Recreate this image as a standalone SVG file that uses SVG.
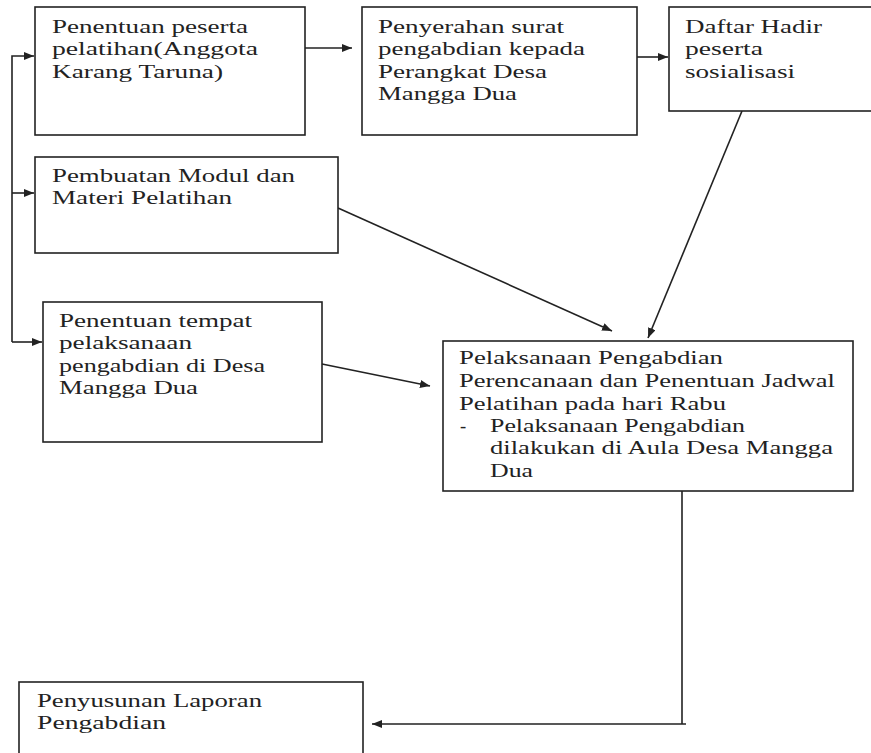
<svg xmlns="http://www.w3.org/2000/svg" width="871" height="753" viewBox="0 0 871 753">
<style>
.box{fill:#fff;stroke:#222;stroke-width:1.6}
.t{font-family:"Liberation Serif","Times New Roman",serif;font-size:18.5px;fill:#222}
.c{fill:none;stroke:#222;stroke-width:1.6}
</style>
<defs>
<marker id="ah" viewBox="0 0 10 8" refX="10" refY="4" markerWidth="10" markerHeight="8" markerUnits="userSpaceOnUse" orient="auto">
<path d="M0,0 L10,4 L0,8 Z" fill="#222"/>
</marker>
</defs>
<rect width="871" height="753" fill="#fff"/>
<g id="connectors">
<path class="c" d="M12,342 L12,56 L34,56" marker-end="url(#ah)"/>
<path class="c" d="M12,193 L34,193" marker-end="url(#ah)"/>
<path class="c" d="M12,342 L42,342" marker-end="url(#ah)"/>
<path class="c" d="M305,48 L352,48" marker-end="url(#ah)"/>
<path class="c" d="M637,57 L668,57" marker-end="url(#ah)"/>
<path class="c" d="M742,111 L648,338" marker-end="url(#ah)"/>
<path class="c" d="M338,208 L612,331" marker-end="url(#ah)"/>
<path class="c" d="M322,364 L430,386" marker-end="url(#ah)"/>
<path class="c" d="M682,491 L682,724 L686,724 M682,724 L372,724" marker-end="url(#ah)"/>
</g>
<g id="n1">
<rect class="box" x="35" y="7" width="270" height="128"/>
<text class="t" x="52" y="33" textLength="196" lengthAdjust="spacingAndGlyphs">Penentuan peserta</text>
<text class="t" x="52" y="55" textLength="206" lengthAdjust="spacingAndGlyphs">pelatihan(Anggota</text>
<text class="t" x="52" y="78" textLength="171" lengthAdjust="spacingAndGlyphs">Karang Taruna)</text>
</g>
<g id="n2">
<rect class="box" x="362" y="7" width="275" height="128"/>
<text class="t" x="378" y="33" textLength="186" lengthAdjust="spacingAndGlyphs">Penyerahan surat</text>
<text class="t" x="378" y="55" textLength="207" lengthAdjust="spacingAndGlyphs">pengabdian kepada</text>
<text class="t" x="378" y="78" textLength="169" lengthAdjust="spacingAndGlyphs">Perangkat Desa</text>
<text class="t" x="378" y="100" textLength="139" lengthAdjust="spacingAndGlyphs">Mangga Dua</text>
</g>
<g id="n3">
<rect class="box" x="669" y="7" width="203" height="104"/>
<text class="t" x="685" y="33" textLength="137" lengthAdjust="spacingAndGlyphs">Daftar Hadir</text>
<text class="t" x="685" y="55" textLength="78" lengthAdjust="spacingAndGlyphs">peserta</text>
<text class="t" x="685" y="78" textLength="110" lengthAdjust="spacingAndGlyphs">sosialisasi</text>
</g>
<g id="n4">
<rect class="box" x="35" y="157" width="303" height="96"/>
<text class="t" x="52" y="182" textLength="243" lengthAdjust="spacingAndGlyphs">Pembuatan Modul dan</text>
<text class="t" x="52" y="204" textLength="180" lengthAdjust="spacingAndGlyphs">Materi Pelatihan</text>
</g>
<g id="n5">
<rect class="box" x="43" y="302" width="279" height="140"/>
<text class="t" x="59" y="327" textLength="193" lengthAdjust="spacingAndGlyphs">Penentuan tempat</text>
<text class="t" x="59" y="349" textLength="133" lengthAdjust="spacingAndGlyphs">pelaksanaan</text>
<text class="t" x="59" y="372" textLength="206" lengthAdjust="spacingAndGlyphs">pengabdian di Desa</text>
<text class="t" x="59" y="394" textLength="139" lengthAdjust="spacingAndGlyphs">Mangga Dua</text>
</g>
<g id="n6">
<rect class="box" x="443" y="341" width="410" height="150"/>
<text class="t" x="459" y="364" textLength="264" lengthAdjust="spacingAndGlyphs">Pelaksanaan Pengabdian</text>
<text class="t" x="459" y="387" textLength="376" lengthAdjust="spacingAndGlyphs">Perencanaan dan Penentuan Jadwal</text>
<text class="t" x="459" y="410" textLength="267" lengthAdjust="spacingAndGlyphs">Pelatihan pada hari Rabu</text>
<text class="t" x="460" y="432">-</text>
<text class="t" x="490" y="432" textLength="255" lengthAdjust="spacingAndGlyphs">Pelaksanaan Pengabdian</text>
<text class="t" x="490" y="454" textLength="343" lengthAdjust="spacingAndGlyphs">dilakukan di Aula Desa Mangga</text>
<text class="t" x="490" y="477" textLength="43" lengthAdjust="spacingAndGlyphs">Dua</text>
</g>
<g id="n7">
<rect class="box" x="19" y="682" width="344" height="90"/>
<text class="t" x="37" y="707" textLength="225" lengthAdjust="spacingAndGlyphs">Penyusunan Laporan</text>
<text class="t" x="37" y="729" textLength="129" lengthAdjust="spacingAndGlyphs">Pengabdian</text>
</g>
</svg>
